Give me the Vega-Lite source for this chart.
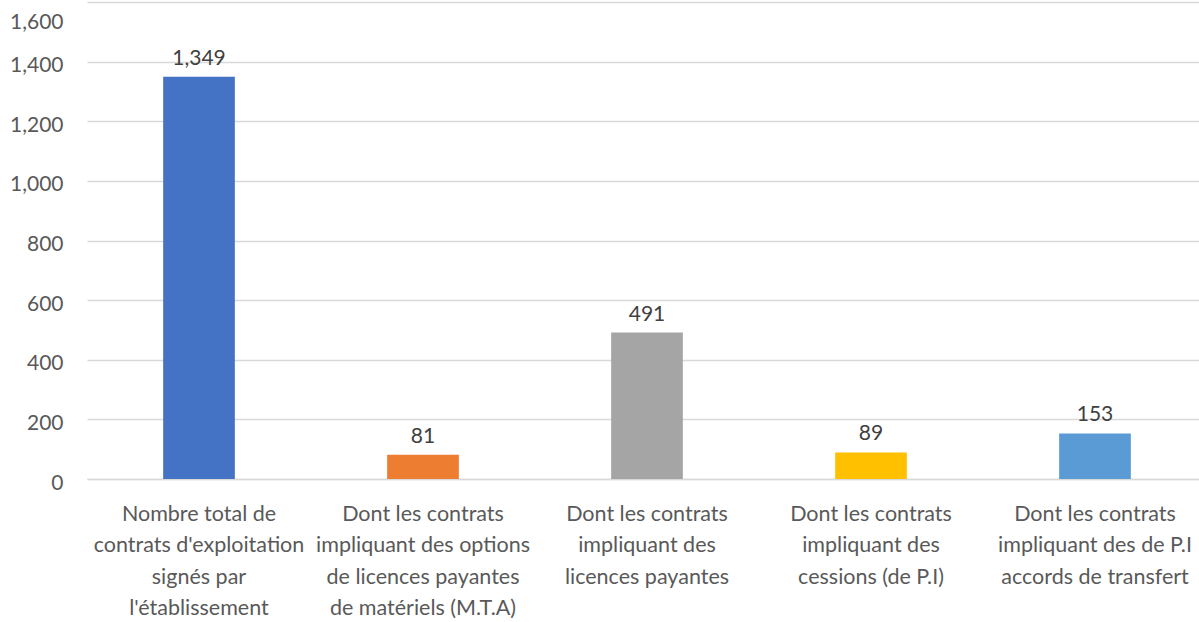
{
  "$schema": "https://vega.github.io/schema/vega-lite/v6.json",
  "width": 1120,
  "height": 477,
  "autosize": {"type": "none"},
  "padding": {"left": 87, "top": 2, "right": -8, "bottom": 143},
  "background": "white",
  "config": {"view": {"stroke": null}, "font": "Lato"},
  "data": {
    "values": [
      {"cat": "c1", "value": 1349, "color": "#4472C4"},
      {"cat": "c2", "value": 81, "color": "#ED7D31"},
      {"cat": "c3", "value": 491, "color": "#A5A5A5"},
      {"cat": "c4", "value": 89, "color": "#FFC000"},
      {"cat": "c5", "value": 153, "color": "#5B9BD5"}
    ]
  },
  "encoding": {
    "x": {
      "field": "cat",
      "type": "nominal",
      "sort": null,
      "scale": {"paddingInner": 0.68, "paddingOuter": 0.34},
      "axis": {
        "title": null,
        "labelAngle": 0,
        "labelExpr": "{'c1':['Nombre total de','contrats d\\'exploitation','signés par','l\\'établissement'],'c2':['Dont les contrats','impliquant des options','de licences payantes','de matériels (M.T.A)'],'c3':['Dont les contrats','impliquant des','licences payantes'],'c4':['Dont les contrats','impliquant des','cessions (de P.I)'],'c5':['Dont les contrats','impliquant des de P.I','accords de transfert']}[datum.value]",
        "labelFontSize": 21.5,
        "labelColor": "#595959",
        "labelLineHeight": 31.5,
        "labelPadding": 24,
        "labelBaseline": "top",
        "ticks": false,
        "domain": true,
        "domainColor": "#D9D9D9",
        "domainWidth": 1.5,
        "labelLimit": 0
      }
    },
    "y": {
      "field": "value",
      "type": "quantitative",
      "scale": {"domain": [0, 1600]},
      "axis": {
        "title": null,
        "values": [0, 200, 400, 600, 800, 1000, 1200, 1400, 1600],
        "format": ",d",
        "labelFontSize": 21,
        "labelColor": "#595959",
        "labelPadding": 24,
        "labelOffset": {"condition": {"test": "datum.value == 1600", "value": 20}, "value": 4},
        "ticks": false,
        "domain": false,
        "gridColor": "#D9D9D9",
        "gridWidth": 1.5
      }
    }
  },
  "layer": [
    {
      "mark": {"type": "bar"},
      "encoding": {"color": {"field": "color", "type": "nominal", "scale": null}}
    },
    {
      "mark": {"type": "text", "baseline": "bottom", "dy": -8, "fontSize": 21, "color": "#404040"},
      "encoding": {"text": {"field": "value", "type": "quantitative", "format": ",d"}}
    }
  ]
}
